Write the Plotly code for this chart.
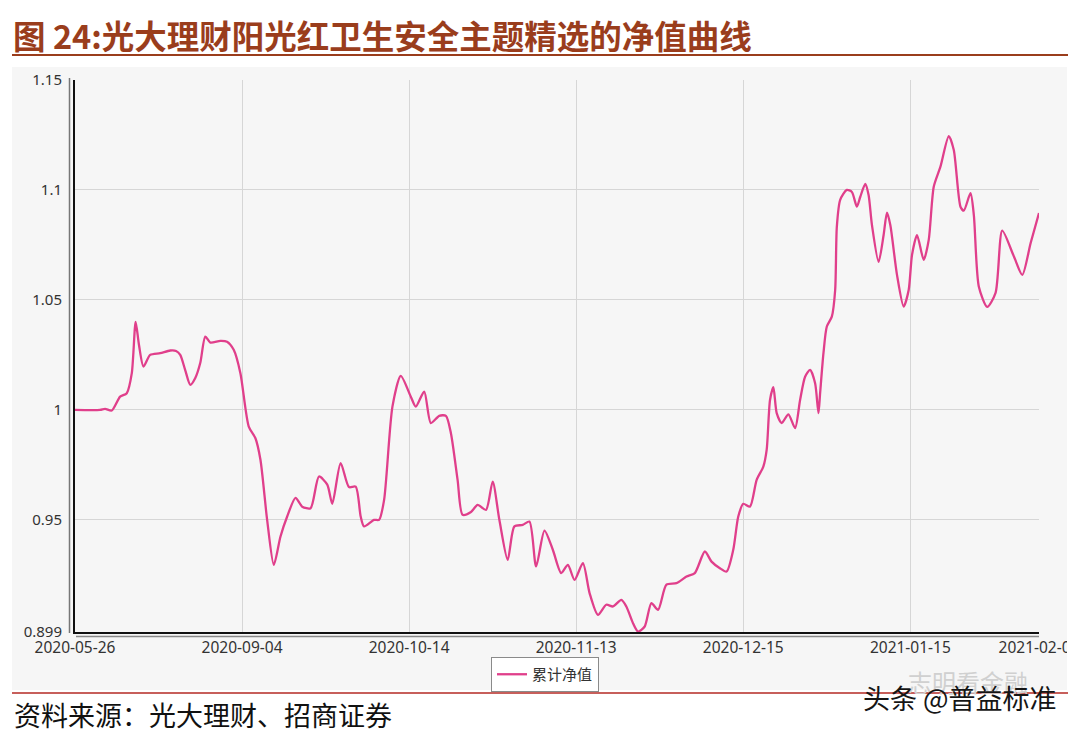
import plotly.graph_objects as go

# ---- data ----
x_pos = [0.00, 0.15, 0.18, 0.22, 0.27, 0.31, 0.34, 0.363, 0.383, 0.41, 0.45, 0.51, 0.57, 0.605, 0.63, 0.66,
         0.69, 0.72, 0.75, 0.78, 0.81, 0.87, 0.91, 0.95, 0.99, 1.04, 1.08, 1.11, 1.15, 1.19, 1.23, 1.27,
         1.32, 1.36, 1.41, 1.46, 1.51, 1.54, 1.59, 1.64, 1.68, 1.71, 1.73, 1.79, 1.82, 1.85, 1.90, 1.95,
         2.01, 2.04, 2.09, 2.13, 2.18, 2.22, 2.25, 2.29, 2.32, 2.37, 2.41, 2.46, 2.50, 2.54, 2.59, 2.63,
         2.68, 2.72, 2.76, 2.81, 2.86, 2.91, 2.95, 2.99, 3.04, 3.08, 3.13, 3.18, 3.22, 3.27, 3.30, 3.34,
         3.37, 3.41, 3.45, 3.49, 3.54, 3.60, 3.66, 3.71, 3.77, 3.81, 3.86, 3.90, 3.94, 3.97, 4.00, 4.04,
         4.08, 4.12, 4.14, 4.16, 4.18, 4.20, 4.23, 4.27, 4.31, 4.34, 4.37, 4.40, 4.43, 4.45, 4.46, 4.48,
         4.50, 4.53, 4.55, 4.56, 4.58, 4.62, 4.65, 4.68, 4.70, 4.73, 4.75, 4.77, 4.81, 4.84, 4.86, 4.88,
         4.92, 4.96, 4.99, 5.01, 5.04, 5.08, 5.11, 5.14, 5.18, 5.23, 5.26, 5.30, 5.32, 5.36, 5.38, 5.41,
         5.46, 5.51, 5.55, 5.62, 5.67, 5.72, 5.77]
nav = [1.000, 1.000, 1.0005, 0.9997, 1.006, 1.0076, 1.0167, 1.040, 1.0295, 1.0197, 1.025, 1.0258, 1.027,
       1.0268, 1.025, 1.018, 1.0114, 1.0145, 1.0214, 1.0333, 1.0306, 1.0314, 1.031, 1.0273, 1.0167,
       0.9924, 0.9871, 0.9773, 0.950, 0.9295, 0.9424, 0.9515, 0.960, 0.956, 0.9553, 0.9697, 0.966,
       0.9573, 0.9758, 0.9649, 0.9651, 0.9515, 0.947, 0.950, 0.950, 0.959, 1.0015, 1.0155, 1.006,
       1.0015, 1.0083, 0.994, 0.9973, 0.9973, 0.9894, 0.9682, 0.9523, 0.9536, 0.9568, 0.9545, 0.9674,
       0.950, 0.9318, 0.947, 0.9477, 0.9492, 0.9288, 0.9451, 0.9364, 0.9258, 0.9295, 0.9227, 0.9303,
       0.9167, 0.9068, 0.9114, 0.9106, 0.9136, 0.9106, 0.903, 0.8992, 0.9015, 0.9121, 0.9091, 0.9205,
       0.9212, 0.9242, 0.9258, 0.9356, 0.931, 0.928, 0.9265, 0.9364, 0.9515, 0.9573, 0.956, 0.9682,
       0.9742, 0.9818, 1.0045, 1.0103, 0.9985, 0.994, 0.998, 0.9917, 1.0045, 1.0151, 1.0182, 1.0121,
       0.9985, 1.0077, 1.0259, 1.0379, 1.0424, 1.0545, 1.0833, 1.0955, 1.100, 1.0991, 1.0924, 1.0968,
       1.1027, 1.0977, 1.0841, 1.0673, 1.0795, 1.0897, 1.0841, 1.0614, 1.047, 1.0545, 1.0705, 1.0795,
       1.0682, 1.0773, 1.1015, 1.1106, 1.1245, 1.1182, 1.0924, 1.0906, 1.0985, 1.0886, 1.056, 1.0468,
       1.0532, 1.0815, 1.0697, 1.0614, 1.0759, 1.0895]

x_tick_pos = [0, 1, 2, 3, 4, 5, 5.77]
x_tick_labels = ["2020-05-26", "2020-09-04", "2020-10-14", "2020-11-13", "2020-12-15", "2021-01-15", "2021-02-05"]
y_tick_vals = [0.899, 0.95, 1.0, 1.05, 1.1, 1.15]
y_tick_text = ["0.899", "0.95", "1", "1.05", "1.1", "1.15"]

series_name = "累计净值"
title_text = "图 24:光大理财阳光红卫生安全主题精选的净值曲线"
source_text = "资料来源：光大理财、招商证券"
wm_faint = "志明看金融"
wm_main = "头条 @普益标准"

# ---- layout geometry (pixels) ----
W, H = 1080, 732
L, R, T, B = 75, 1039, 80, 632


def px(xp):
    return (xp - L) / (R - L)


def py(yp):
    return (B - yp) / (B - T)


LINE_COLOR = "#e03f8b"
TITLE_COLOR = "#9a3d1c"
CJK = "Noto Sans CJK SC"
LAT = "Noto Sans, Noto Sans CJK SC"

fig = go.Figure()
fig.add_trace(go.Scatter(
    x=x_pos, y=nav, mode="lines", name=series_name,
    line=dict(color=LINE_COLOR, width=2.3, shape="spline", smoothing=0.7),
    showlegend=True,
))

shapes = [
    # chart panel background
    dict(type="rect", xref="paper", yref="paper", x0=px(12), x1=px(1067), y0=py(67), y1=py(690),
         fillcolor="#f6f6f6", line=dict(width=0), layer="below"),
    # title underline
    dict(type="line", xref="paper", yref="paper", x0=px(12), x1=px(1068), y0=py(55), y1=py(55),
         line=dict(color=TITLE_COLOR, width=2)),
    # footer red line
    dict(type="line", xref="paper", yref="paper", x0=px(12), x1=px(1068), y0=py(693), y1=py(693),
         line=dict(color="#b52a25", width=1.5)),
    # gray shadow lines of axes
    dict(type="line", xref="paper", yref="paper", x0=px(69.5), x1=px(69.5), y0=py(78), y1=py(633),
         line=dict(color="#777777", width=1.5)),
    dict(type="line", xref="paper", yref="paper", x0=px(76), x1=px(1039), y0=py(636.5), y1=py(636.5),
         line=dict(color="#888888", width=1.5)),
    # clip of last tick label at panel edge
    dict(type="rect", xref="paper", yref="paper", x0=px(1067), x1=px(1085), y0=py(638), y1=py(662),
         fillcolor="white", line=dict(width=0), layer="above"),
]

annotations = [
    dict(text=f"<b>{title_text}</b>", xref="paper", yref="paper", x=px(11), y=py(35),
         xanchor="left", yanchor="middle", showarrow=False,
         font=dict(family=CJK, size=32.5, color=TITLE_COLOR)),
    dict(text=source_text, xref="paper", yref="paper", x=px(12), y=py(714),
         xanchor="left", yanchor="middle", showarrow=False,
         font=dict(family=CJK, size=27, color="#111111")),
    dict(text=wm_faint, xref="paper", yref="paper", x=px(906), y=py(681),
         xanchor="left", yanchor="middle", showarrow=False,
         font=dict(family=CJK, size=24, color="#d0d0d0")),
    dict(text=wm_main, xref="paper", yref="paper", x=px(861), y=py(697),
         xanchor="left", yanchor="middle", showarrow=False,
         font=dict(family=CJK, size=27, color="#151515")),
]

fig.update_layout(
    width=W, height=H, autosize=False,
    margin=dict(l=L, r=W - R, t=T, b=H - B, pad=0, autoexpand=False),
    paper_bgcolor="white",
    plot_bgcolor="#fafafa",
    shapes=shapes,
    annotations=annotations,
    showlegend=True,
    legend=dict(
        orientation="h", x=px(545), y=py(657), xanchor="center", yanchor="top",
        bgcolor="white", bordercolor="#8a8a8a", borderwidth=1,
        font=dict(family=CJK, size=15, color="#333333"),
        itemwidth=30,
    ),
    xaxis=dict(
        range=[0, 5.77], tickmode="array", tickvals=x_tick_pos, ticktext=x_tick_labels,
        showgrid=True, gridcolor="#d6d6d6", gridwidth=1,
        showline=True, linecolor="#111111", linewidth=2, automargin=False,
        ticks="", tickfont=dict(family=LAT, size=15.5, color="#333333"),
        zeroline=False, fixedrange=True,
    ),
    yaxis=dict(
        range=[0.899, 1.15], tickmode="array", tickvals=y_tick_vals, ticktext=y_tick_text,
        showgrid=True, gridcolor="#d6d6d6", gridwidth=1,
        showline=True, linecolor="#111111", linewidth=2, automargin=False,
        ticks="", ticklabelstandoff=8, tickfont=dict(family=LAT, size=15, color="#333333"),
        zeroline=False, fixedrange=True,
    ),
)

fig.write_html(
    "out.html",
    config={"displayModeBar": False},
    post_script="document.body.style.margin='0';document.body.style.overflow='hidden';",
)
